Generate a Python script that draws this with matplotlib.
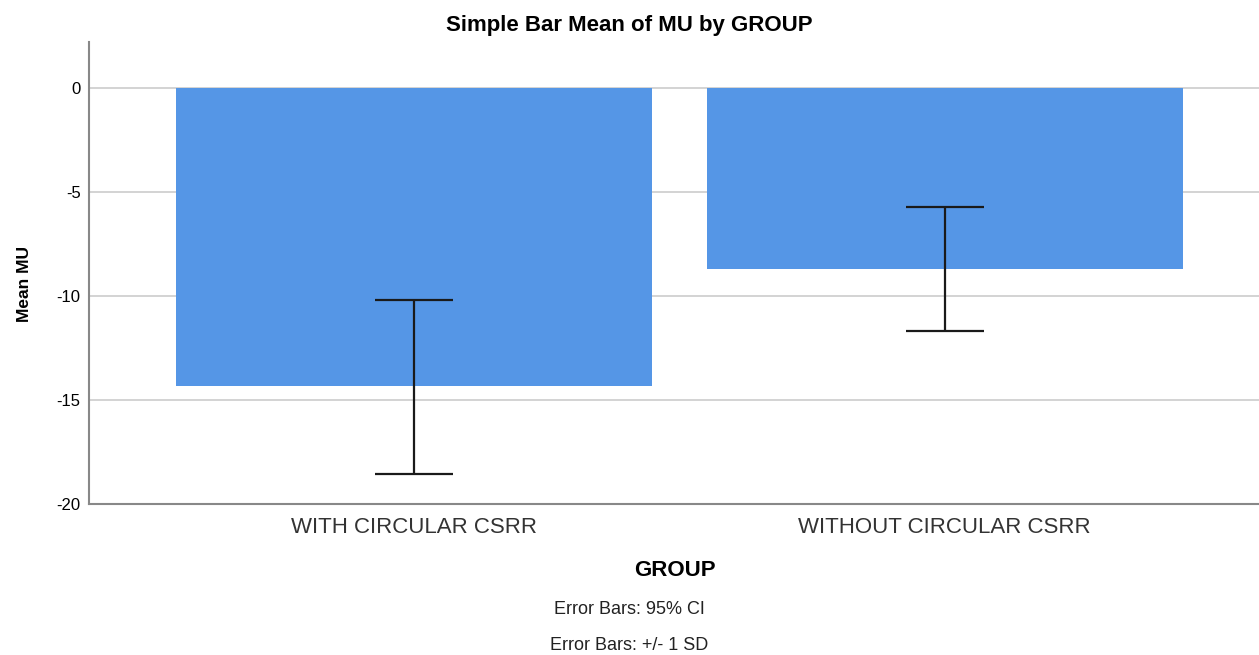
import matplotlib.pyplot as plt

plt.rcParams["font.family"] = ["Liberation Sans", "DejaVu Sans"]

GROUPS = ["WITH CIRCULAR CSRR", "WITHOUT CIRCULAR CSRR"]
MEANS = [-14.33, -8.70]
ERR_LOW = [-18.56, -11.68]
ERR_HIGH = [-10.19, -5.72]
Y_TICKS = [0, -5, -10, -15, -20]

fig = plt.figure(figsize=(12.59, 6.55), dpi=100)
ax = fig.add_axes([0.0707, 0.2305, 0.93, 0.7054])

x = list(range(len(GROUPS)))
ax.bar(x, MEANS, width=0.898, color="#5596E6", zorder=2)

lower = [m - lo for m, lo in zip(MEANS, ERR_LOW)]
upper = [hi - m for m, hi in zip(MEANS, ERR_HIGH)]
ax.errorbar(x, MEANS, yerr=[lower, upper], fmt="none", ecolor="#1a1a1a",
            elinewidth=1.6, capsize=28, capthick=1.6, zorder=3)

ax.set_xlim(-0.613, 1.594)
ax.set_ylim(-20, 2.2)
ax.set_yticks(Y_TICKS)
ax.set_yticklabels([str(t) for t in Y_TICKS], fontsize=12)
ax.set_xticks(x)
ax.set_xticklabels(GROUPS, fontsize=16, color="#333333")
ax.tick_params(axis="y", length=0, pad=6)
ax.tick_params(axis="x", length=0, pad=9)

ax.yaxis.grid(True, color="#cccccc", linewidth=1.2, zorder=0)
for side in ["top", "right"]:
    ax.spines[side].set_visible(False)
for side in ["left", "bottom"]:
    ax.spines[side].set_color("#888888")
    ax.spines[side].set_linewidth(1.5)

ax.set_ylabel("Mean MU", fontsize=12.5, fontweight="bold")
ax.yaxis.set_label_coords(-0.049, 0.476)
ax.set_xlabel("GROUP", fontsize=16, fontweight="bold", labelpad=16)

fig.text(0.5, 1 - 25 / 655, "Simple Bar Mean of MU by GROUP", ha="center", va="center",
         fontsize=16, fontweight="bold")
fig.text(0.5, 1 - 610 / 655, "Error Bars: 95% CI", ha="center", va="center", fontsize=13,
         color="#222222")
fig.text(0.5, 1 - 646 / 655, "Error Bars: +/- 1 SD", ha="center", va="center", fontsize=13,
         color="#222222")

fig.savefig("out.png", dpi=100)
